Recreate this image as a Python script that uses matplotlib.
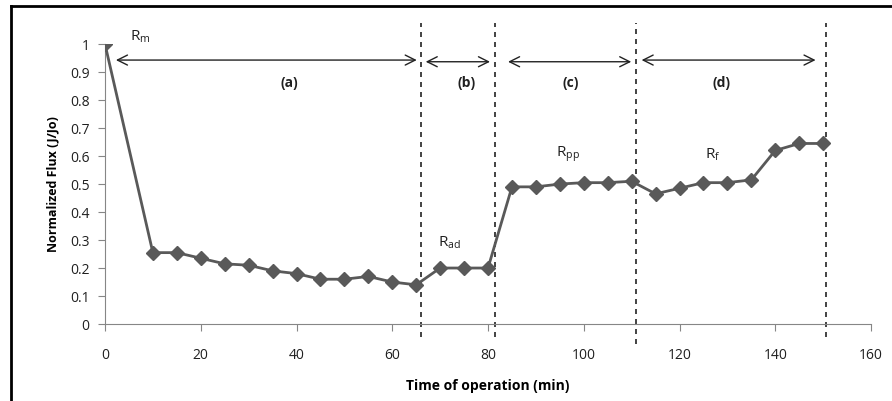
import matplotlib
matplotlib.use('Agg')
import matplotlib.pyplot as plt
from matplotlib.lines import Line2D

# data
time_min = [0, 10, 15, 20, 25, 30, 35, 40, 45, 50, 55, 60, 65,
            70, 75, 80, 85, 90, 95, 100, 105, 110,
            115, 120, 125, 130, 135, 140, 145, 150]
flux = [1.0, 0.255, 0.255, 0.235, 0.215, 0.21, 0.19, 0.18, 0.16, 0.16, 0.17, 0.15, 0.14,
        0.2, 0.2, 0.2, 0.49, 0.49, 0.5, 0.505, 0.505, 0.51,
        0.465, 0.485, 0.505, 0.505, 0.515, 0.62, 0.645, 0.645]

phase_bounds = [66, 81.5, 111, 150.5]
phase_labels = ['(a)', '(b)', '(c)', '(d)']
phase_label_x = [38.5, 75.5, 97.3, 128.8]
arrows = [(1.7, 65.7), (66.4, 81), (83.6, 110.5), (111.5, 149)]
resist_labels = [r'$\mathregular{R_{m}}$', r'$\mathregular{R_{ad}}$',
                 r'$\mathregular{R_{pp}}$', r'$\mathregular{R_{f}}$']
resist_pos = [(7.3, 1.025), (72, 0.29), (96.7, 0.605), (126.9, 0.605)]

plt.rcParams['font.family'] = ['Open Sans', 'DejaVu Sans']

fig = plt.figure(figsize=(8.92, 4.01), dpi=100)
ax = fig.add_axes([0.1177, 0.192, 0.8588, 0.698])

gray = '#595959'
ax.plot(time_min, flux, color=gray, lw=2, marker='D', markersize=7, zorder=3)

ax.set_xlim(0, 160)
ax.set_ylim(0, 1)
ax.set_xticks(range(0, 161, 20))
ax.set_yticks([i / 10 for i in range(11)])
ax.set_yticklabels(['0', '0.1', '0.2', '0.3', '0.4', '0.5', '0.6', '0.7', '0.8', '0.9', '1'])
for s in ['top', 'right']:
    ax.spines[s].set_visible(False)
for s in ['left', 'bottom']:
    ax.spines[s].set_color('#868686')
ax.tick_params(axis='both', direction='out', length=5, color='#868686', labelsize=10, labelcolor='#202020')
ax.tick_params(axis='x', pad=12)
ax.tick_params(axis='y', pad=6)

ax.set_xlabel('Time of operation (min)', fontsize=10, fontweight='bold', labelpad=12)
ax.set_ylabel('Normalized Flux (J/Jo)', fontsize=9, fontweight='bold', labelpad=8)

# phase separators
bottoms = [-0.045, -0.045, -0.07, -0.045]
for xb, yb in zip(phase_bounds, bottoms):
    ax.plot([xb, xb], [yb, 1.075], color='#222222', lw=1.2, ls=(0, (3, 3)), clip_on=False, zorder=2)

arrow_y = [0.943, 0.937, 0.937, 0.943]
for (x0, x1), ya in zip(arrows, arrow_y):
    ax.annotate('', xy=(x0, ya), xytext=(x1, ya),
                arrowprops=dict(arrowstyle='<->', color='#222222', lw=1, mutation_scale=18),
                annotation_clip=False)

for lab, xl in zip(phase_labels, phase_label_x):
    ax.text(xl, 0.862, lab, ha='center', va='center', fontsize=10, fontweight='bold', color='#202020')

for lab, (xr, yr) in zip(resist_labels, resist_pos):
    ax.text(xr, yr, lab, ha='center', va='center', fontsize=11, color='#202020')

# outer frame (top and left only)
fig.add_artist(Line2D([0.0123, 0.0123], [0, 0.985], transform=fig.transFigure, color='black', lw=2))
fig.add_artist(Line2D([0.0123, 1.0], [0.985, 0.985], transform=fig.transFigure, color='black', lw=2))

fig.savefig('out.png', dpi=100)
